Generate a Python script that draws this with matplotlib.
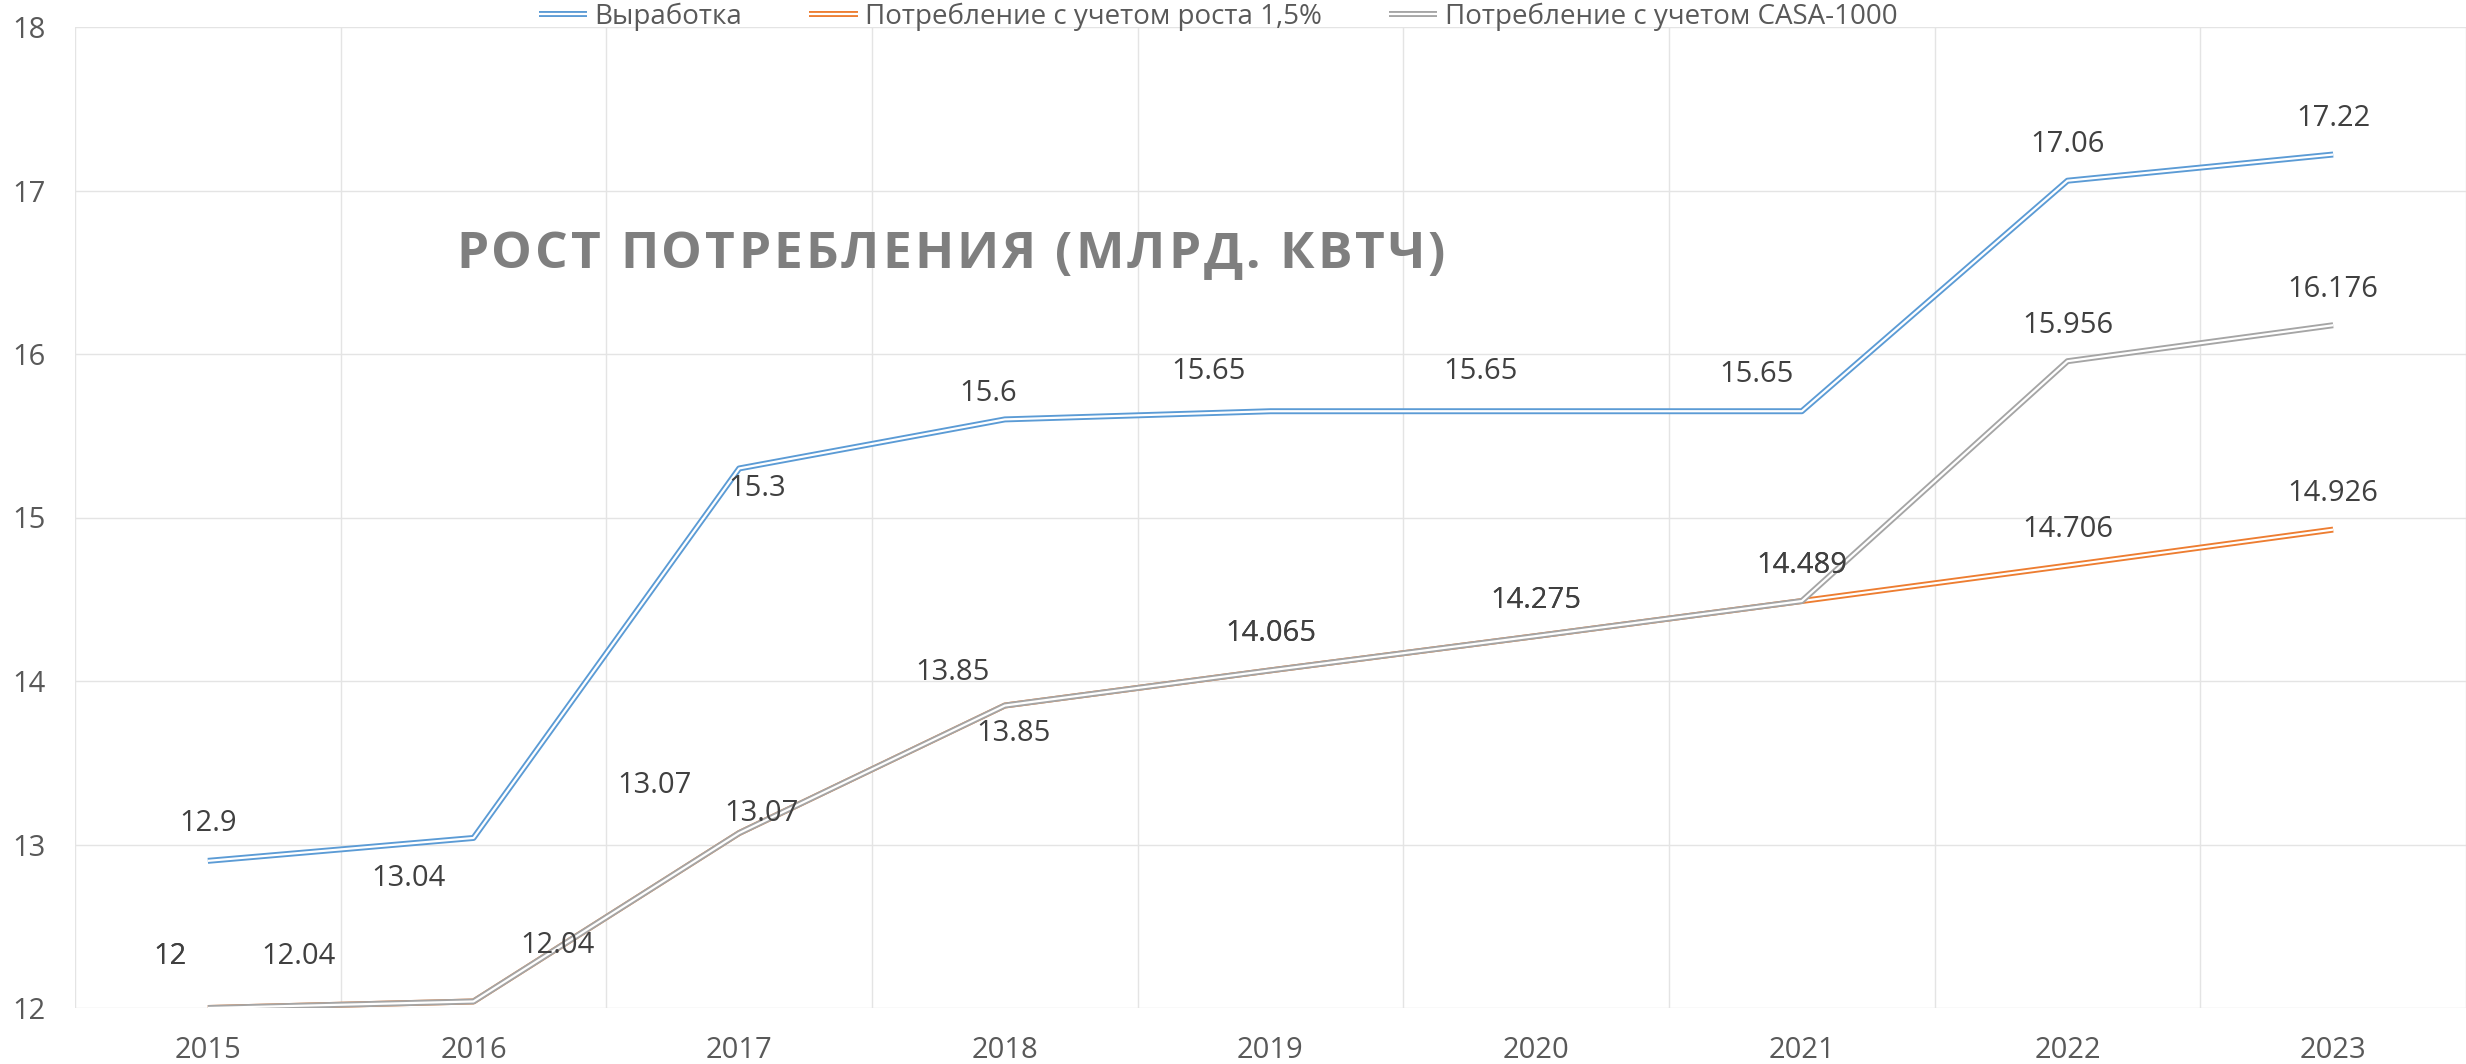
import matplotlib
matplotlib.use('Agg')
import matplotlib.pyplot as plt
import matplotlib.patheffects as pe
from matplotlib.font_manager import FontProperties
import numpy as np

plt.rcParams['font.family'] = ['Open Sans', 'DejaVu Sans']

# ---- data ----
years = ['2015', '2016', '2017', '2018', '2019', '2020', '2021', '2022', '2023']
generation = [12.9, 13.04, 15.3, 15.6, 15.65, 15.65, 15.65, 17.06, 17.22]
cons_growth = [12, 12.04, 13.07, 13.85, 14.065, 14.275, 14.489, 14.706, 14.926]
cons_casa = [12, 12.04, 13.07, 13.85, 14.065, 14.275, 14.489, 15.956, 16.176]
series_names = ['Выработка', 'Потребление с учетом роста 1,5%',
                'Потребление с учетом CASA-1000']
title_text = 'РОСТ ПОТРЕБЛЕНИЯ (МЛРД. КВТЧ)'

# label offsets (category units, value units) - styling only
off_gen = [(0, 0.226), (-0.245, -0.245), (0.068, -0.12), (-0.064, 0.16),
           (-0.233, 0.24), (-0.21, 0.24), (-0.17, 0.226), (0, 0.22), (0, 0.22)]
off_growth = [(-0.143, 0.318), (-0.66, 0.278), (-0.32, 0.29), (-0.196, 0.2),
              (0, 0.226), (0, 0.22), (0, 0.215), (0, 0.22), (0, 0.22)]
off_casa = [(-0.143, 0.318), (0.316, 0.345), (0.083, 0.12), (0.034, -0.17),
            (0, 0.226), (0, 0.22), (0, 0.215), (0, 0.22), (0, 0.22)]

colors = ['#5B9BD5', '#ED7D31', '#A5A5A5']

W, H = 2466, 1064
fig = plt.figure(figsize=(W / 100, H / 100), dpi=100)
left, right, top, bottom = 75, 2466, 27, 1008
ax = fig.add_axes([left / W, (H - bottom) / H, (right - left) / W, (bottom - top) / H])

x = np.arange(len(years))
handles = []
for y, c, name, z in [(generation, colors[0], series_names[0], 3),
                      (cons_growth, colors[1], series_names[1], 4),
                      (cons_casa, colors[2], series_names[2], 5)]:
    ln, = ax.plot(x, y, color='white', lw=1.6, label=name, zorder=z,
                  solid_capstyle='butt',
                  path_effects=[pe.Stroke(linewidth=4.3, foreground=c, capstyle='butt'),
                                pe.Normal()])
    handles.append(ln)

lab_color = '#404040'
for y, offs in [(generation, off_gen), (cons_growth, off_growth), (cons_casa, off_casa)]:
    for i, (v, (dx, dy)) in enumerate(zip(y, offs)):
        ax.text(i + dx, v + dy, f'{v:g}', ha='center', va='center',
                fontsize=21, color=lab_color, zorder=10)

ax.set_xlim(-0.5, len(years) - 0.5)
ax.set_ylim(12, 18)
ax.set_xticks(x)
ax.set_xticklabels(years)
ax.set_yticks(np.arange(12, 19, 1))
ax.set_xticks(np.arange(-0.5, len(years), 1), minor=True)
ax.grid(which='minor', axis='x', color='#E4E4E4', lw=1.0, zorder=0)
ax.grid(which='major', axis='y', color='#E4E4E4', lw=1.0, zorder=0)
ax.grid(which='major', axis='x', visible=False)
ax.tick_params(axis='both', which='both', length=0, labelsize=21, labelcolor='#595959')
ax.tick_params(axis='y', pad=21)
ax.tick_params(axis='x', pad=20)
for s in ax.spines.values():
    s.set_visible(False)

# title with letter spacing (drawn char by char)
fp = FontProperties(family=['Open Sans', 'DejaVu Sans'], weight='bold', size=37)
renderer = fig.canvas.get_renderer()
bar_w = renderer.get_text_width_height_descent('|', fp, ismath=False)[0]
spacing = 3.0  # px
x0, ybase = 456, H - 268
for k, ch in enumerate(title_text):
    prefix = title_text[:k]
    pw = renderer.get_text_width_height_descent(prefix + '|', fp, ismath=False)[0] - bar_w if k else 0
    fig.text((x0 + pw + k * spacing) / W, ybase / H, ch, fontproperties=fp,
             color='#7F7F7F', ha='left', va='baseline')

fig.legend(handles=handles, labels=series_names, loc='center',
           bbox_to_anchor=(1218 / W, 1 - 17 / H), ncol=3, frameon=False,
           fontsize=20, handlelength=1.75, handletextpad=0.27, columnspacing=2.4,
           borderpad=0, borderaxespad=0, labelcolor='#595959')

fig.savefig('out.png', dpi=100)
